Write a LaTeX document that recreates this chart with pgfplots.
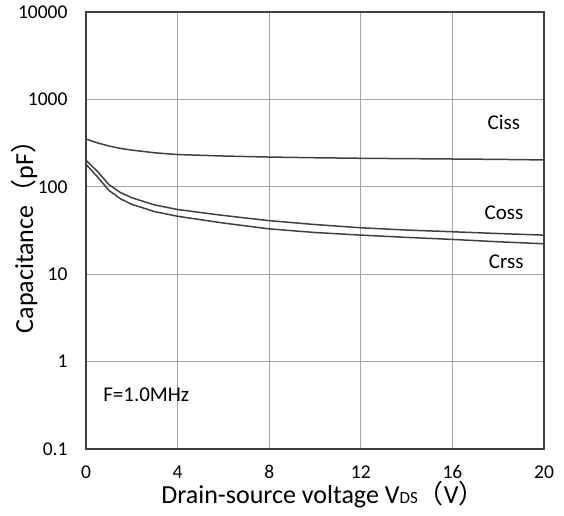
\documentclass[border=0pt]{standalone}
\usepackage{fontspec}
\setmainfont{Carlito}
\newfontfamily\cjk{Noto Sans CJK SC}
\usepackage{pgfplots}
\pgfplotsset{compat=1.18}
\definecolor{curve}{RGB}{64,64,64}
\definecolor{gridc}{RGB}{165,165,165}

\begin{document}
\begin{tikzpicture}
\begin{axis}[
    scale only axis,
    width=458pt, height=437pt,
    xmin=0, xmax=20,
    ymode=log, ymin=0.1, ymax=10000,
    xtick={0,4,8,12,16,20},
    ytick={0.1,1,10,100,1000,10000},
    yticklabels={0.1,1,10,100,1000,10000},
    log ticks with fixed point,
    minor ytick={},
    xmajorgrids=true, ymajorgrids=true,
    major grid style={gridc, line width=0.9pt},
    axis line style={curve, line width=1.4pt},
    tick style={draw=none},
    /pgf/number format/assume math mode=true,
    ticklabel style={font=\fontsize{19.5}{19.5}\selectfont},
    xticklabel style={anchor=center, yshift=-23pt},
    yticklabel style={anchor=east, xshift=-15pt},
    xlabel={Drain-source voltage V{\fontsize{17}{17}\selectfont DS}{\cjk（}V{\cjk）}},
    ylabel={Capacitance{\cjk（}pF{\cjk）}},
    label style={font=\fontsize{26}{26}\selectfont},
    xlabel style={at={(axis description cs:0.5,0)}, anchor=center, yshift=-46pt, xshift=8pt},
    ylabel style={at={(axis description cs:-0.135,0.5)}, anchor=center, rotate=0},
    clip=true,
]
% Ciss
\addplot[curve, line width=1.5pt] coordinates {
(0,352)(0.5,318)(1,293)(1.5,275)(2,263)(3,245)(4,234)(6,225)(8,219)(10,215)(12,212)(14,210)(16,208)(18,206)(20,203)};
% Coss
\addplot[curve, line width=1.5pt] coordinates {
(0,201)(0.5,150)(1,106)(1.5,86)(2,75)(3,62)(4,55)(6,47)(8,41)(10,37)(12,34)(14,32)(16,30.6)(18,29.2)(20,28)};
% Crss
\addplot[curve, line width=1.5pt] coordinates {
(0,181)(0.5,130)(1,91)(1.5,73)(2,63)(3,52)(4,46)(6,38.5)(8,33)(10,30)(12,28)(14,26.4)(16,25)(18,23.5)(20,22.3)};
\node[font=\fontsize{21}{21}\selectfont] at (axis cs:18.25,550) {Ciss};
\node[font=\fontsize{21}{21}\selectfont] at (axis cs:18.25,50) {Coss};
\node[font=\fontsize{21}{21}\selectfont] at (axis cs:18.35,13.8) {Crss};
\node[font=\fontsize{21}{21}\selectfont, anchor=west] at (axis cs:0.6,0.42) {F=1.0MHz};
\end{axis}
\pgfresetboundingbox
\useasboundingbox (-86pt,-66pt) rectangle (478pt,449pt);
\end{tikzpicture}
\end{document}
